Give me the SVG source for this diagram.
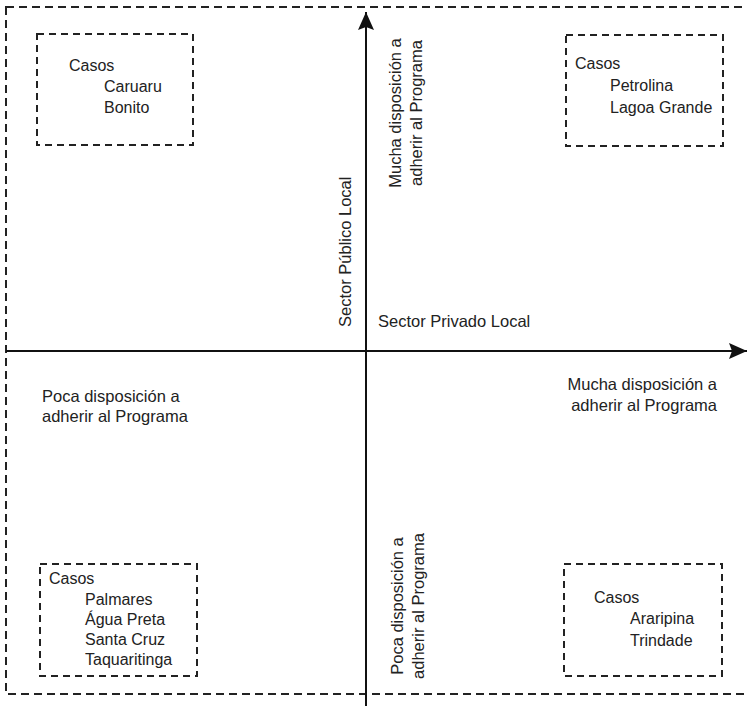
<svg xmlns="http://www.w3.org/2000/svg" width="747" height="706" viewBox="0 0 747 706">
<defs>
<style>
.t{font-family:"Liberation Sans",Arial,sans-serif;font-size:16px;fill:#222}
.a{font-family:"Liberation Sans",Arial,sans-serif;font-size:16.5px;fill:#222}
.box{fill:none;stroke:#222;stroke-width:2;stroke-dasharray:7 5}
.outer{fill:none;stroke:#222;stroke-width:2;stroke-dasharray:8 5}
.axis{stroke:#111;stroke-width:2;fill:none}
</style>
<marker id="ah" viewBox="0 0 18 16" refX="18" refY="8" markerWidth="18" markerHeight="16" markerUnits="userSpaceOnUse" orient="auto">
<path d="M0,0 L18,8 L0,16 L3,8 Z" fill="#111"/>
</marker>
</defs>
<rect width="747" height="706" fill="#fff"/>
<rect class="outer" x="6" y="7" width="760" height="687"/>
<g id="connectors">
<line class="axis" x1="6" y1="351" x2="747" y2="351" marker-end="url(#ah)"/>
<line class="axis" x1="366" y1="706" x2="366" y2="12" marker-end="url(#ah)"/>
</g>
<g id="axis-labels">
<text class="a" transform="translate(351,327) rotate(-90)">Sector Público Local</text>
<text class="a" x="378" y="327">Sector Privado Local</text>
<text class="a" transform="translate(401,113) rotate(-90)" text-anchor="middle">Mucha disposición a</text>
<text class="a" transform="translate(422,113) rotate(-90)" text-anchor="middle">adherir al Programa</text>
<text class="a" transform="translate(403,606) rotate(-90)" text-anchor="middle">Poca disposición a</text>
<text class="a" transform="translate(424,606) rotate(-90)" text-anchor="middle">adherir al Programa</text>
<text class="a" x="42" y="402">Poca disposición a</text>
<text class="a" x="42" y="422">adherir al Programa</text>
<text class="a" x="717" y="390" text-anchor="end">Mucha disposición a</text>
<text class="a" x="717" y="411" text-anchor="end">adherir al Programa</text>
</g>
<g id="box-top-left">
<rect class="box" x="37" y="34" width="156" height="111"/>
<text class="t" x="69" y="71">Casos</text>
<text class="t" x="104" y="92">Caruaru</text>
<text class="t" x="104" y="113">Bonito</text>
</g>
<g id="box-top-right">
<rect class="box" x="566" y="35" width="157" height="111"/>
<text class="t" x="575" y="69">Casos</text>
<text class="t" x="610" y="91">Petrolina</text>
<text class="t" x="610" y="113">Lagoa Grande</text>
</g>
<g id="box-bottom-left">
<rect class="box" x="40" y="564" width="157" height="112"/>
<text class="t" x="49" y="584">Casos</text>
<text class="t" x="85" y="605">Palmares</text>
<text class="t" x="85" y="625">Água Preta</text>
<text class="t" x="85" y="645">Santa Cruz</text>
<text class="t" x="85" y="665">Taquaritinga</text>
</g>
<g id="box-bottom-right">
<rect class="box" x="564" y="564" width="158" height="112"/>
<text class="t" x="594" y="603">Casos</text>
<text class="t" x="630" y="624">Araripina</text>
<text class="t" x="630" y="646">Trindade</text>
</g>
</svg>
